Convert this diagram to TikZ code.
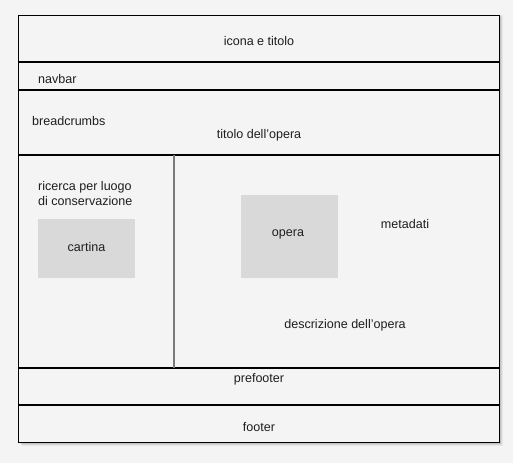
\documentclass[tikz,border=0pt]{standalone}
\usepackage{fontspec}
\setmainfont{Liberation Sans}
\definecolor{bg}{HTML}{F4F4F4}
\definecolor{boxgray}{HTML}{D9D9D9}
\definecolor{txt}{HTML}{1E1E1E}
\definecolor{divider}{HTML}{7A7A7A}
\tikzset{
  lbl/.style={font=\fontsize{12.6}{15}\selectfont, text=txt, inner sep=0pt, yshift=-1.5bp},
  frameline/.style={draw=black, line width=1.3bp},
  placeholder/.style={fill=boxgray, draw=none, inner sep=0pt},
}
\begin{document}
\begin{tikzpicture}[x=1bp,y=-1bp]
\useasboundingbox[fill=bg] (0,0) rectangle (513,463);
% soft shadow
\foreach \i/\o in {4/0.05,3/0.07,2/0.09,1/0.11}{
  \fill[black, opacity=\o] (18+\i,19-\i) rectangle (499+\i,442+\i);
}
\node[frameline, fill=bg, minimum width=481bp, minimum height=427bp, inner sep=0pt, anchor=north west] (frame) at (18,15) {};
% horizontal dividers
\coordinate (l1a) at (18,62);  \coordinate (l1b) at (499,62);
\coordinate (l2a) at (18,90);  \coordinate (l2b) at (499,90);
\coordinate (l3a) at (18,155); \coordinate (l3b) at (499,155);
\coordinate (l4a) at (18,368); \coordinate (l4b) at (499,368);
\coordinate (l5a) at (18,405); \coordinate (l5b) at (499,405);
\coordinate (va) at (174,155); \coordinate (vb) at (174,368);
\draw[frameline] (l1a) -- (l1b);
\draw[frameline] (l2a) -- (l2b);
\draw[frameline] (l3a) -- (l3b);
\draw[frameline] (l4a) -- (l4b);
\draw[frameline] (l5a) -- (l5b);
\draw[draw=divider, line width=1.6bp] (va) -- (vb);
% placeholders
\node[placeholder, minimum width=97bp, minimum height=59bp, anchor=north west] (cartina) at (38,219) {};
\node[placeholder, minimum width=97bp, minimum height=83bp, anchor=north west] (opera) at (241,195) {};
% labels
\node[lbl] (icona) at (259,40) {icona e titolo};
\node[lbl, anchor=west] (navbar) at (38,77.5) {navbar};
\node[lbl, anchor=west] (bc) at (32,119.5) {breadcrumbs};
\node[lbl] (titolo) at (259,133.5) {titolo dell'opera};
\node[lbl, anchor=west] (ric1) at (38,185.5) {ricerca per luogo};
\node[lbl, anchor=west] (ric2) at (38,199.5) {di conservazione};
\node[lbl] (cartinat) at (86.5,245.5) {cartina};
\node[lbl] (operat) at (288,232.5) {opera};
\node[lbl] (meta) at (405,222.5) {metadati};
\node[lbl] (descr) at (345,323.5) {descrizione dell'opera};
\node[lbl] (pref) at (259,377.5) {prefooter};
\node[lbl] (footer) at (259,425.5) {footer};
\end{tikzpicture}
\end{document}
